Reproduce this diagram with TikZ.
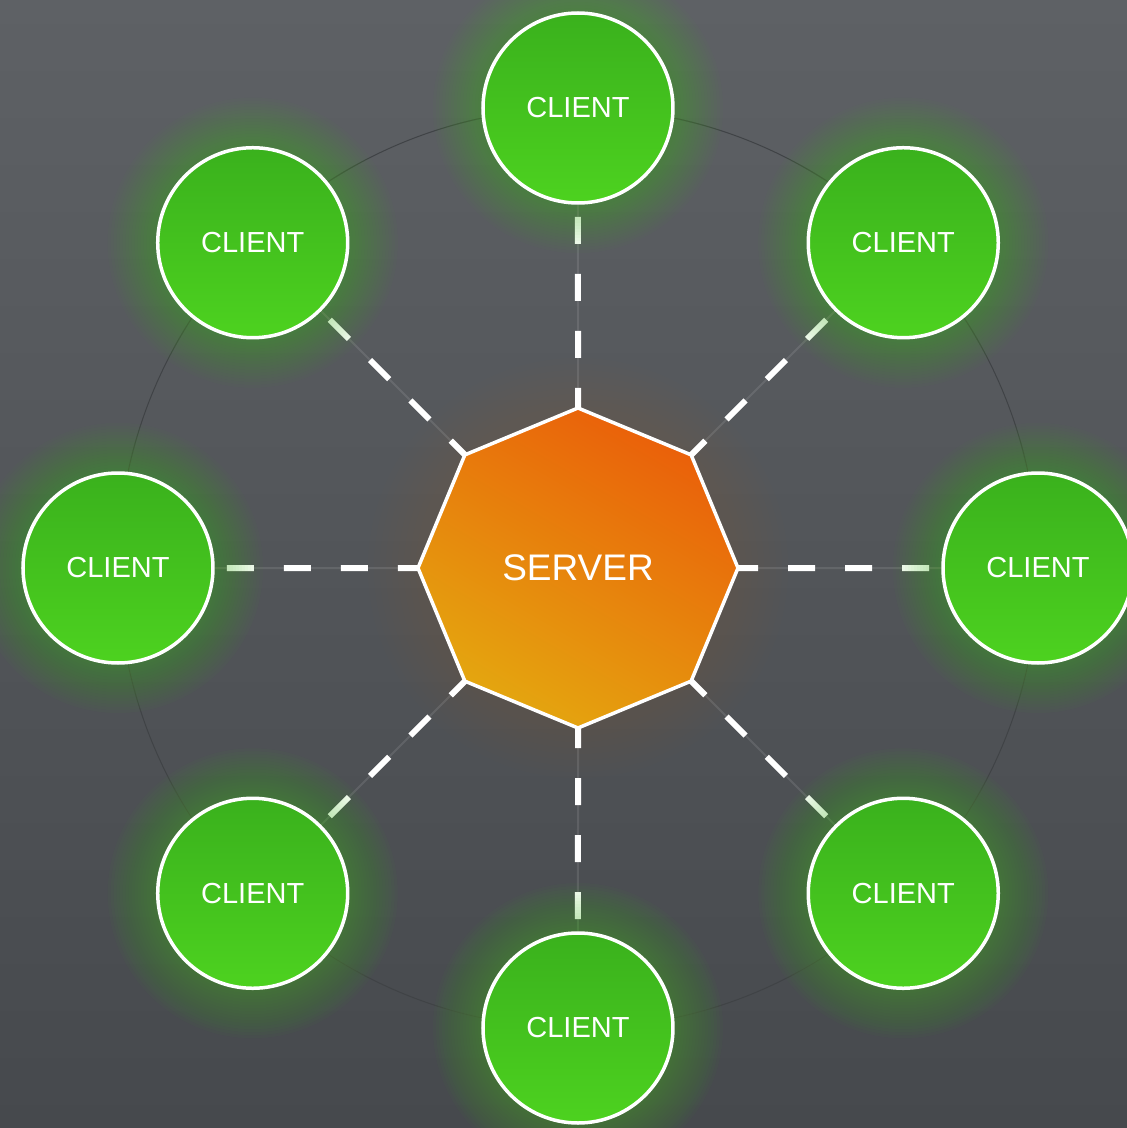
\documentclass[tikz,border=0pt]{standalone}
\usepackage{fontspec}
\setmainfont{Liberation Sans}
\usetikzlibrary{shapes.geometric}

\definecolor{bgtop}{HTML}{5E6165}
\definecolor{bgbot}{HTML}{46494D}
\definecolor{ringcol}{HTML}{404346}
\definecolor{clienttop}{HTML}{3AB11D}
\definecolor{clientbot}{HTML}{4DD21F}
\definecolor{glowcol}{HTML}{43C21F}
\definecolor{srvA}{HTML}{EA5F0A}
\definecolor{srvB}{HTML}{E4A70F}

\pgfdeclarelayer{backdrop}
\pgfdeclarelayer{links}
\pgfdeclarelayer{halo}
\pgfsetlayers{backdrop,links,halo,main}

\begin{document}
\begin{tikzpicture}[x=1pt,y=1pt,
  client/.style={circle, minimum size=190pt, inner sep=0pt, outer sep=0pt,
    draw=white, line width=3.5pt, top color=clienttop, bottom color=clientbot,
    text=white, font=\fontsize{29}{30}\selectfont},
  server/.style={regular polygon, regular polygon sides=8, shape border rotate=22.5,
    minimum size=320pt, inner sep=0pt, outer sep=0pt,
    draw=white, line width=3.5pt, top color=srvA, bottom color=srvB, shading angle=-30,
    text=white, font=\fontsize{37}{38}\selectfont},
  linkbase/.style={draw=white, opacity=0.1, line width=2pt},
  link/.style={draw=white, line width=6pt, dash pattern=on 27pt off 30pt, dash phase=7pt}]

  % canvas
  \useasboundingbox (-578,-560) rectangle (549,568);

  % nodes
  \node[server] (srv) at (0,0) {SERVER};
  \foreach \i in {0,...,7}
    \node[client] (c\i) at ({90-45*\i}:460) {CLIENT};

  % background, soft central light and ring
  \begin{pgfonlayer}{backdrop}
    \shade[top color=bgtop, bottom color=bgbot] (-578,-560) rectangle (549,568);
    \foreach \r in {470,460,...,170}
      \fill[white, opacity=0.0035] (0,0) circle (\r);
    \foreach \r in {162,168,...,210}
      \fill[srvA, opacity=0.01] (0,0) circle (\r);
    \draw[ringcol, line width=1pt] (0,0) circle (460);
  \end{pgfonlayer}

  % dashed connectors from server to each client
  \begin{pgfonlayer}{links}
    \foreach \i in {0,...,7} {
      \path[linkbase] (srv) -- (c\i);
      \path[link] (srv) -- (c\i);
    }
  \end{pgfonlayer}

  % green halo round the clients
  \begin{pgfonlayer}{halo}
    \foreach \i in {0,...,7}
      \foreach \r in {97,100,...,145}
        \fill[glowcol, opacity=0.026] (c\i.center) circle (\r);
  \end{pgfonlayer}
\end{tikzpicture}
\end{document}
